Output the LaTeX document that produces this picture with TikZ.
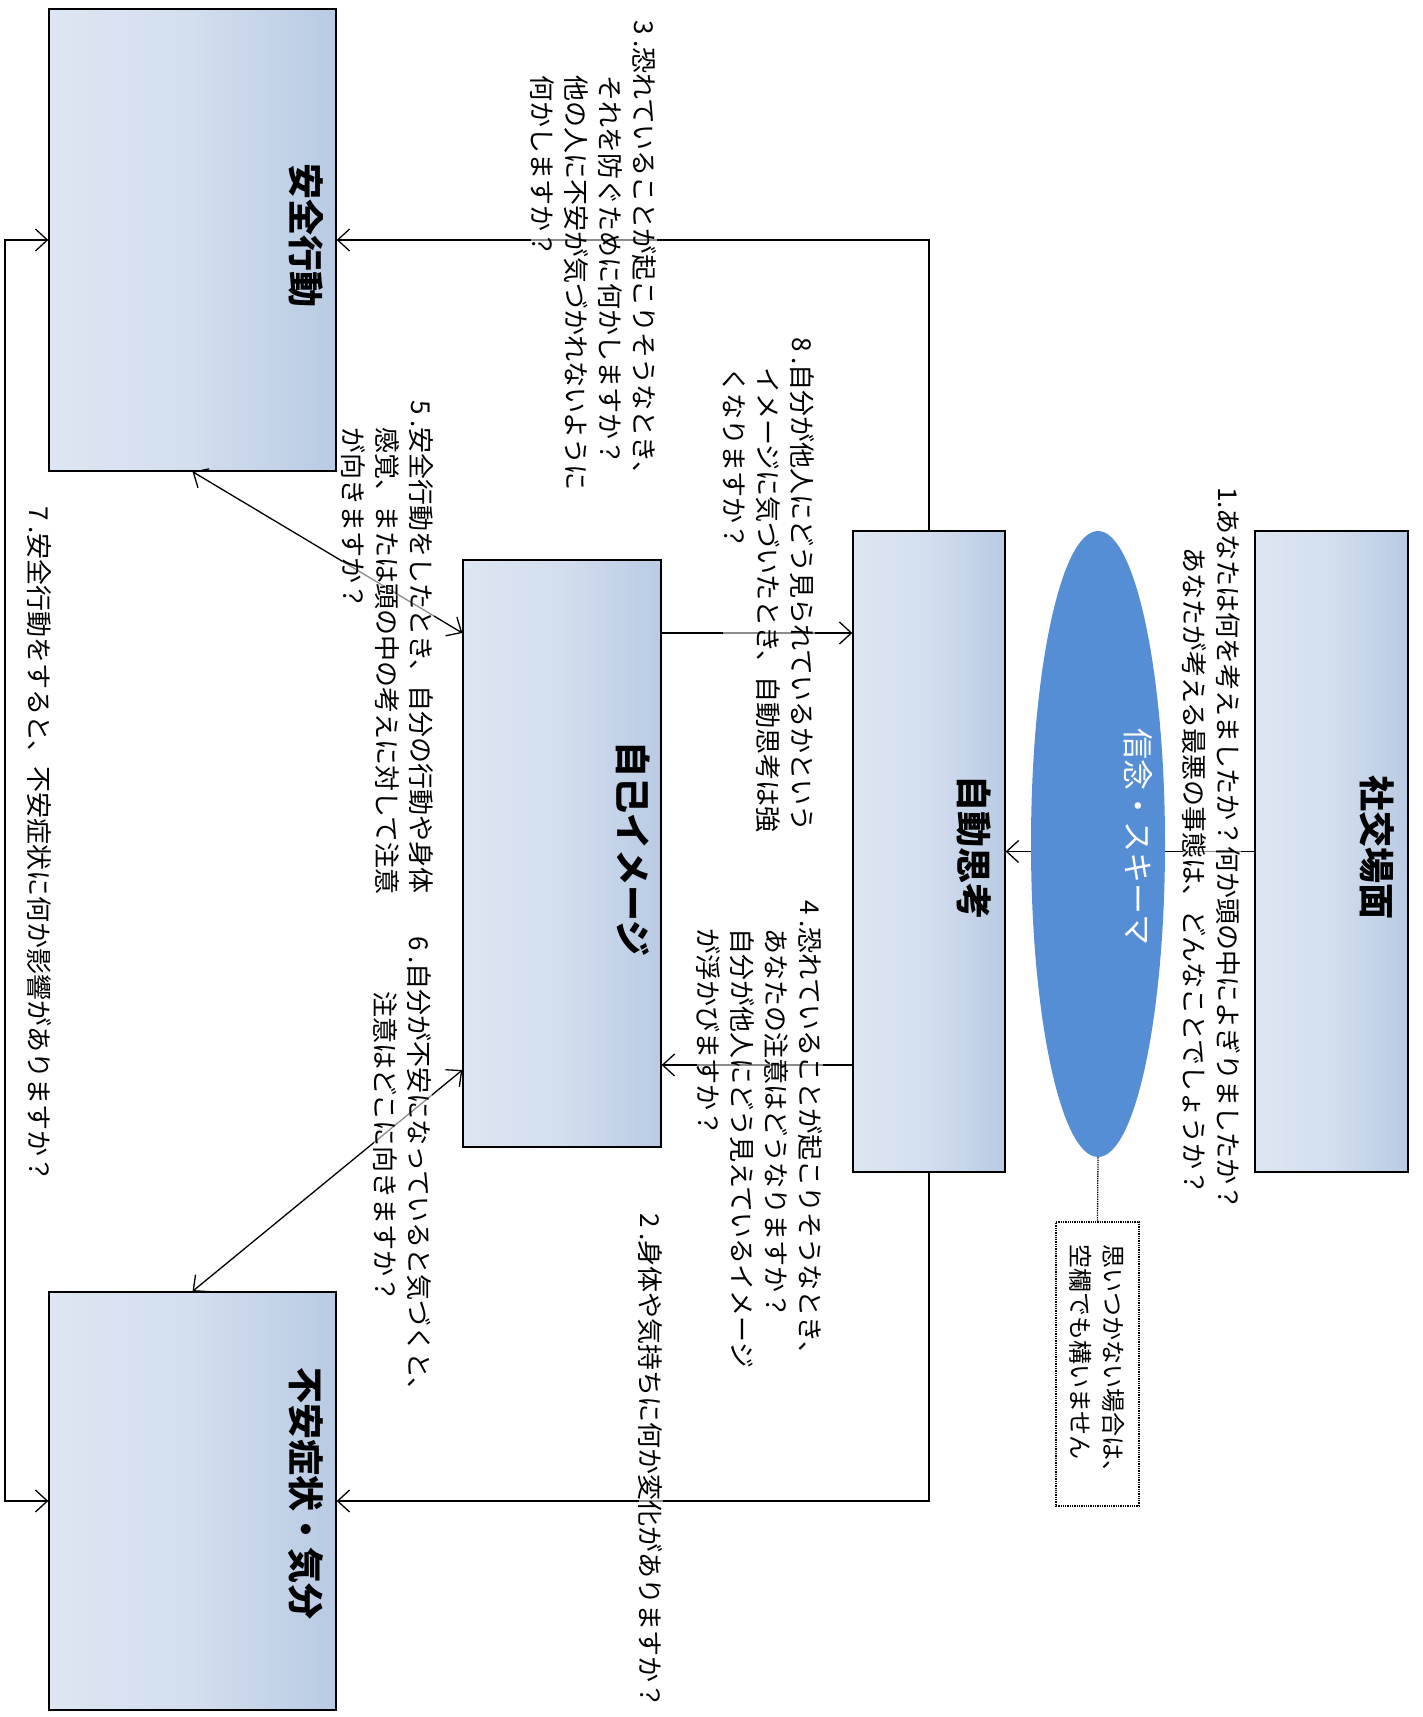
\documentclass[tikz,border=0pt]{standalone}
\usepackage{fontspec}
\setmainfont{Noto Sans CJK JP}
\usetikzlibrary{arrows.meta,shapes.geometric}
\definecolor{boxL}{HTML}{DDE6F2}
\definecolor{boxM}{HTML}{D3DEEE}
\definecolor{boxR}{HTML}{B8CBE3}
\definecolor{schemacol}{HTML}{558ED5}
\tikzset{
  panel/.style={rectangle, draw=black, line width=1.3pt, left color=boxL, right color=boxR, middle color=boxM, inner sep=0pt},
  ttl/.style={rotate=-90, font=\bfseries\fontsize{36}{40}\selectfont, inner sep=0pt},
  lbl/.style={rotate=-90, anchor=north west, align=left, inner sep=0pt, fill=white, fill opacity=0.55, text opacity=1, font=\fontsize{26}{34}\selectfont},
  conn/.style={line width=1.3pt, draw=black},
  arr/.style={-{Straight Barb[length=12pt,width=22pt]}},
  darr/.style={{Straight Barb[length=12pt,width=22pt]}-{Straight Barb[length=12pt,width=22pt]}},
}
\begin{document}
\begin{tikzpicture}[x=1pt,y=-1pt]
\useasboundingbox (0,0) rectangle (1423,1717);
% panels
\node[panel, minimum width=153pt, minimum height=641pt] (scene) at (1331.5,851.5) {};
\node[panel, minimum width=152pt, minimum height=641pt] (auto) at (929,851.5) {};
\node[panel, minimum width=198pt, minimum height=587pt] (self) at (562,853.5) {};
\node[panel, minimum width=287pt, minimum height=462pt] (safety) at (192.5,240) {};
\node[panel, minimum width=287pt, minimum height=418pt] (anx) at (192.5,1501) {};
\coordinate (lx) at (5,0);
\coordinate (ya) at (0,633);
\coordinate (yb) at (0,1065);
\coordinate (yc) at (0,1070);
% connectors
\draw[conn, arr] (scene.west) -- (auto.east);
\draw[conn, arr] (auto.north) |- (safety.east);
\draw[conn, arr] (auto.south) |- (anx.east);
\draw[conn, arr] (self.east |- ya) -- (auto.west |- ya);
\draw[conn, arr] (auto.west |- yb) -- (self.east |- yb);
\draw[conn, darr] (safety.south) -- (self.west |- ya);
\draw[conn, darr] (anx.north) -- (self.west |- yc);
\draw[conn, darr] (safety.west) -- (safety.west -| lx) |- (anx.west);
% schema ellipse
\node[ellipse, fill=schemacol, minimum width=134pt, minimum height=626pt, inner sep=0pt] (schema) at (1098,844) {};
\node[rotate=-90, text=white, font=\fontsize{31}{36}\selectfont, inner sep=0pt] (schematext) at (1138,837) {信念・スキーマ};
\node[rotate=-90, draw=black, densely dotted, line width=1.3pt, fill=white, minimum width=284pt, minimum height=83pt, align=left, font=\fontsize{24}{33}\selectfont, inner sep=0pt] (note) at (1097.5,1364) {思いつかない場合は、\\空欄でも構いません};
\draw[conn, densely dotted] (schema.south) -- (note.west);
% labels
\node[lbl] (q1) at (1241,487) {1.あなたは何を考えましたか？何か頭の中によぎりましたか？\\\hspace*{60pt}あなたが考える最悪の事態は、どんなことでしょうか？};
\node[lbl] (q3) at (657,20) {3 .恐れていることが起こりそうなとき、\\\hspace*{55pt}それを防ぐために何かしますか？\\\hspace*{55pt}他の人に不安が気づかれないように\\\hspace*{55pt}何かしますか？};
\node[lbl] (q8) at (815,337) {8 .自分が他人にどう見られているかという\\\hspace*{30pt}イメージに気づいたとき、自動思考は強\\\hspace*{30pt}くなりますか？};
\node[lbl] (q4) at (823,900) {4 .恐れていることが起こりそうなとき、\\\hspace*{28pt}あなたの注意はどうなりますか？\\\hspace*{28pt}自分が他人にどう見えているイメージ\\\hspace*{28pt}が浮かびますか？};
\node[lbl] (q5) at (434,400) {5 .安全行動をしたとき、自分の行動や身体\\\hspace*{27pt}感覚、または頭の中の考えに対して注意\\\hspace*{27pt}が向きますか？};
\node[lbl] (q6) at (432,936) {6 .自分が不安になっていると気づくと、\\\hspace*{55pt}注意はどこに向きますか？};
\node[lbl] (q7) at (52,506) {7 .安全行動をすると、不安症状に何か影響がありますか？};
\node[lbl] (q2) at (663,1213) {2 .身体や気持ちに何か変化がありますか？};
% titles
\node[ttl] (t1) at (1377,847) {社交場面};
\node[ttl] (t2) at (974,847) {自動思考};
\node[ttl] (t3) at (633,849) {自己イメージ};
\node[ttl] (t4) at (306,235) {安全行動};
\node[ttl] (t5) at (306,1493) {不安症状・気分};
\end{tikzpicture}
\end{document}
